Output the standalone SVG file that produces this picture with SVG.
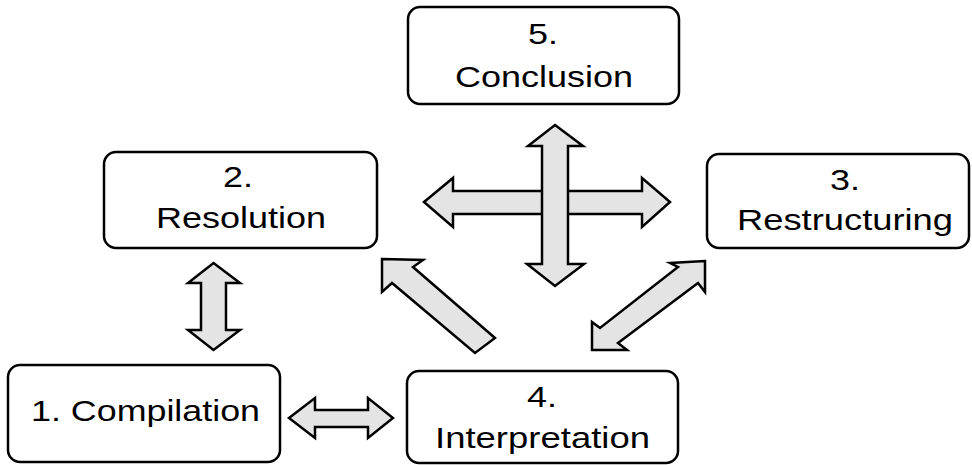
<svg xmlns="http://www.w3.org/2000/svg" width="972" height="465" viewBox="0 0 972 465">
<style>
.box{fill:#fff;stroke:#000;stroke-width:2.5}
.lbl{font-family:"Liberation Sans",Arial,sans-serif;font-size:30px;fill:#000;text-anchor:middle}
.arr{fill:#e4e4e4;stroke:#000;stroke-width:2.5;stroke-linejoin:miter}
</style>
<rect width="972" height="465" fill="#fff"/>
<g id="connectors">
<polygon class="arr" points="424,202 453,178 453,191 642,191 642,178 670,202 642,227 642,214 453,214 453,227"/>
<polygon class="arr" points="555,125 583,146 568,146 568,264 584,264 555,286 527,264 542,264 542,146 528,146"/>
<polygon class="arr" points="213.5,263 240,283 226,283 226,330 240,330 213.5,350 188,330 201,330 201,283 188,283"/>
<polygon class="arr" points="289,418 315,398 315,410 368,410 368,398 393,418 368,438 368,427 315,427 315,438"/>
<polygon class="arr" points="382,259 423,260 413,267 495,338 475,353 392,283 382,292"/>
<polygon class="arr" points="705,261 670,263 678,267 600,328 592,322 592,350 627,350 618,343 698,283 705,292"/>
</g>
<g id="node5">
<rect class="box" x="408" y="7" width="271" height="97" rx="12"/>
<text class="lbl" x="543" y="44" textLength="30" lengthAdjust="spacingAndGlyphs">5.</text>
<text class="lbl" x="544" y="87" textLength="178" lengthAdjust="spacingAndGlyphs">Conclusion</text>
</g>
<g id="node2">
<rect class="box" x="104" y="152" width="273" height="96" rx="12"/>
<text class="lbl" x="238" y="187" textLength="30" lengthAdjust="spacingAndGlyphs">2.</text>
<text class="lbl" x="241" y="228" textLength="170" lengthAdjust="spacingAndGlyphs">Resolution</text>
</g>
<g id="node3">
<rect class="box" x="707" y="154" width="262" height="94" rx="12"/>
<text class="lbl" x="845" y="190" textLength="30" lengthAdjust="spacingAndGlyphs">3.</text>
<text class="lbl" x="845" y="230" textLength="216" lengthAdjust="spacingAndGlyphs">Restructuring</text>
</g>
<g id="node1">
<rect class="box" x="8" y="365" width="272" height="97" rx="12"/>
<text class="lbl" x="145.5" y="421" textLength="229" lengthAdjust="spacingAndGlyphs">1. Compilation</text>
</g>
<g id="node4">
<rect class="box" x="407" y="371" width="271" height="92" rx="12"/>
<text class="lbl" x="542" y="407" textLength="30" lengthAdjust="spacingAndGlyphs">4.</text>
<text class="lbl" x="542.5" y="448" textLength="215" lengthAdjust="spacingAndGlyphs">Interpretation</text>
</g>
</svg>
